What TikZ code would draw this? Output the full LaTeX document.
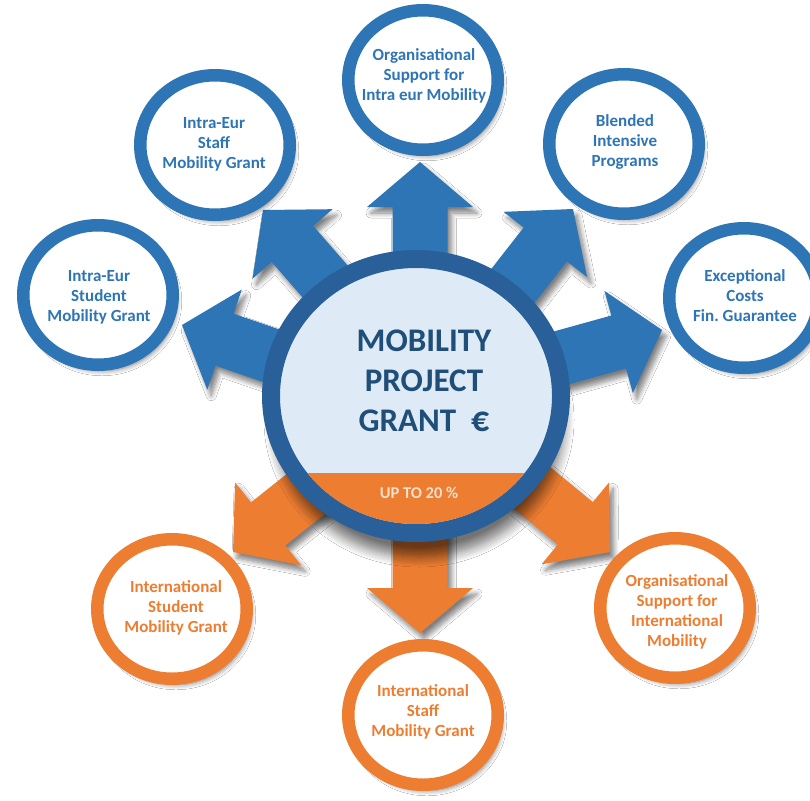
\documentclass[tikz,border=0pt]{standalone}
\usepackage{fontspec}
\setmainfont{Carlito}
\usetikzlibrary{shapes.geometric,shadows.blur}
\frenchspacing

\definecolor{ringblue}{HTML}{2E75B6}
\definecolor{hubblue}{HTML}{2A6099}
\definecolor{hubfill}{HTML}{DEEBF7}
\definecolor{titleblue}{HTML}{1F4E79}
\definecolor{erasorange}{HTML}{ED7D31}
\definecolor{capcream}{HTML}{F6DFCC}

\begin{document}
\begin{tikzpicture}[x=1pt,y=-1pt,
  softshadow/.style={blur shadow={shadow xshift=4pt,shadow yshift=-6pt,shadow blur radius=5pt,shadow blur steps=8,shadow opacity=50}},
  ring/.style={ellipse,draw=#1,line width=12.5pt,fill=white,minimum width=149.5pt,minimum height=139.5pt,inner sep=0pt,softshadow},
  ringtext/.style={align=center,text=#1,font=\bfseries\fontsize{17}{20}\selectfont},
  bigarrow/.style={fill=#1,softshadow}]

\fill[white] (0,0) rectangle (810,800);
\useasboundingbox (0,0) rectangle (810,800);

% blue arrows, tip x / tip y / angle
\foreach \tx/\ty/\ang in {420/162/90, 263/210/131, 182/325/161, 573/209/52, 662/330/15.5}
  \fill[bigarrow=ringblue, shift={(\tx,\ty)}, rotate=\ang] (0,0) -- (-45,53) -- (-45,27.5) -- (-200,27.5) -- (-200,-27.5) -- (-45,-27.5) -- (-45,-53) -- cycle;

% orange arrows
\foreach \tx/\ty/\ang in {420/633/-90, 233/552/-141.4, 610/552/-39.5}
  \fill[bigarrow=erasorange, shift={(\tx,\ty)}, rotate=\ang] (0,0) -- (-45,53) -- (-45,27.5) -- (-200,27.5) -- (-200,-27.5) -- (-45,-27.5) -- (-45,-53) -- cycle;

% outer rings
\node[ring=ringblue] (orgintra) at (423,80) {};
\node[ring=ringblue] (staffeu) at (215,145) {};
\node[ring=ringblue] (studeu) at (98,295) {};
\node[ring=ringblue] (blended) at (624,144) {};
\node[ring=ringblue] (except) at (744,298) {};
\node[ring=erasorange] (studint) at (172,609) {};
\node[ring=erasorange] (staffint) at (423,715) {};
\node[ring=erasorange] (orgint) at (675,608) {};

% hub
\node[ellipse, draw=hubblue, line width=18pt, fill=hubfill, minimum width=290pt, minimum height=274pt,
  blur shadow={shadow xshift=3pt,shadow yshift=-24pt,shadow blur radius=10pt,shadow blur steps=10,shadow opacity=55}] (hub) at (416,396) {};
\begin{scope}
  \clip (hub.center) ellipse (136 and 128);
  \fill[erasorange] (250,473) rectangle (580,560);
\end{scope}

\node[align=center, text=titleblue, font=\bfseries\fontsize{33}{40}\selectfont] (title) at (424,381) {MOBILITY\\PROJECT\\GRANT~~\fontsize{36}{40}\selectfont€};
\node[text=capcream, font=\bfseries\fontsize{16.5}{18}\selectfont] (share) at (419,493) {UP TO 20 \%};

% ring texts
\node[ringtext=ringblue] (orgintra-t) at (424,76) {Organisational\\Support for\\Intra eur Mobility};
\node[ringtext=ringblue] (staffeu-t) at (214,144) {Intra-Eur\\Staff\\Mobility Grant};
\node[ringtext=ringblue] (studeu-t) at (99,297) {Intra-Eur\\Student\\Mobility Grant};
\node[ringtext=ringblue] (blended-t) at (625,142) {Blended\\Intensive\\Programs};
\node[ringtext=ringblue] (except-t) at (745,296) {Exceptional\\Costs\\Fin. Guarantee};
\node[ringtext=erasorange] (studint-t) at (176,608) {International\\Student\\Mobility Grant};
\node[ringtext=erasorange] (staffint-t) at (423,712) {International\\Staff\\Mobility Grant};
\node[ringtext=erasorange] (orgint-t) at (677,612) {Organisational\\Support for\\International\\Mobility};

\end{tikzpicture}
\end{document}
